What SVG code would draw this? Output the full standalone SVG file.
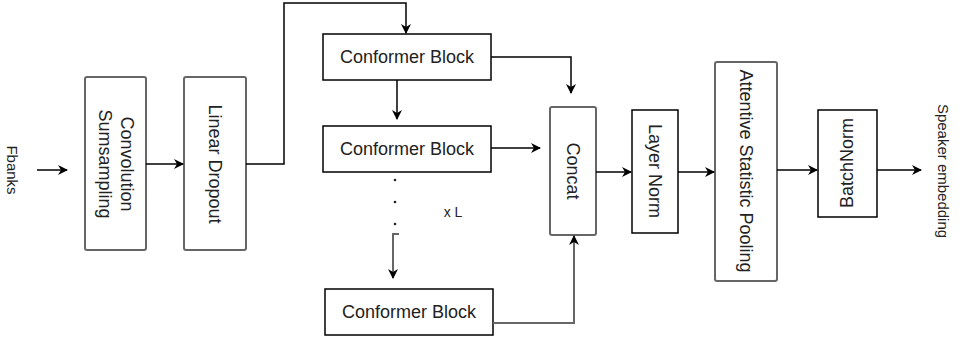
<svg xmlns="http://www.w3.org/2000/svg" width="964" height="345" viewBox="0 0 964 345">
<defs>
<marker id="ah" viewBox="0 0 10 10" refX="9" refY="5" markerWidth="11" markerHeight="10" markerUnits="userSpaceOnUse" orient="auto">
<path d="M0,0 L10,5 L0,10 L3,5 z" fill="#000"/>
</marker>
<style>
.box{fill:#fff;stroke:#000;stroke-width:1.5}
.gbox{fill:#fff;stroke:#666;stroke-width:2}
.t{font-family:"Liberation Sans",Arial,sans-serif;font-size:18px;fill:#222;text-anchor:middle;dominant-baseline:central}
.s{font-family:"Liberation Sans",Arial,sans-serif;font-size:15px;fill:#222;text-anchor:middle;dominant-baseline:central}
.c{fill:none;stroke:#000;stroke-width:1.5}
.g{fill:none;stroke:#666;stroke-width:2}
</style>
</defs>
<rect width="964" height="345" fill="#fff"/>
<g id="fbanks"><text class="s" transform="translate(12,170) rotate(90)">Fbanks</text></g>
<g id="conv"><rect class="gbox" x="85" y="77" width="61" height="173" rx="2"/>
<text class="t" transform="translate(115.5,164) rotate(90)"><tspan x="0" y="-11">Convolution</tspan><tspan x="0" y="11">Sumsampling</tspan></text></g>
<g id="linear"><rect class="gbox" x="184" y="77" width="62" height="173" rx="2"/>
<text class="t" transform="translate(215,164) rotate(90)">Linear Dropout</text></g>
<g id="cb1"><rect class="box" x="323" y="34" width="168" height="46"/><text class="t" x="407" y="57">Conformer Block</text></g>
<g id="cb2"><rect class="box" x="323" y="126" width="168" height="46"/><text class="t" x="407" y="149">Conformer Block</text></g>
<g id="cb3"><rect class="box" x="325" y="289" width="168" height="46"/><text class="t" x="409" y="312">Conformer Block</text></g>
<g id="xl"><text class="s" style="font-size:14px" x="453" y="212">x L</text></g>
<g id="concat"><rect class="gbox" x="550" y="107" width="46" height="128" rx="2"/>
<text class="t" transform="translate(573,171) rotate(90)">Concat</text></g>
<g id="layernorm"><rect class="box" x="632" y="110" width="46" height="123"/>
<text class="t" transform="translate(655,171) rotate(90)">Layer Norm</text></g>
<g id="asp"><rect class="gbox" x="715" y="62" width="62" height="219" rx="2"/>
<text class="t" transform="translate(746,171) rotate(90)">Attentive Statistic Pooling</text></g>
<g id="batchnorm"><rect class="box" x="818" y="110" width="59" height="107"/>
<text class="t" transform="translate(847,163) rotate(-90)">BatchNorm</text></g>
<g id="speaker"><text class="s" transform="translate(943,171) rotate(90)">Speaker embedding</text></g>
<g id="connectors">
<path class="c" d="M37,170 H67" marker-end="url(#ah)"/>
<path class="c" d="M146,164 H183" marker-end="url(#ah)"/>
<path class="c" d="M246,164 H284 V3 H406 V33" marker-end="url(#ah)"/>
<path class="c" d="M397,80 V119" marker-end="url(#ah)"/>
<path class="c" d="M491,57 H571 V93" marker-end="url(#ah)"/>
<path class="c" d="M491,148 H540" marker-end="url(#ah)"/>
<circle cx="395" cy="180" r="1.3" fill="#222"/>
<circle cx="395" cy="202" r="1.3" fill="#222"/>
<circle cx="395" cy="224" r="1.3" fill="#222"/>
<path class="g" d="M399,234 H393 V278" marker-end="url(#ah)"/>
<path class="g" d="M493,323 H574 V236" marker-end="url(#ah)"/>
<path class="c" d="M596,172 H631" marker-end="url(#ah)"/>
<path class="c" d="M678,172 H714" marker-end="url(#ah)"/>
<path class="c" d="M777,170 H817" marker-end="url(#ah)"/>
<path class="c" d="M877,170 H921" marker-end="url(#ah)"/>
</g>
</svg>
